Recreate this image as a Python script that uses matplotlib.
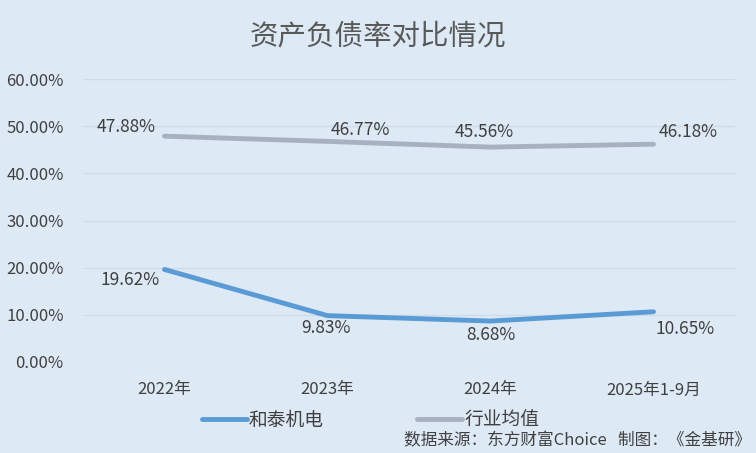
import matplotlib.pyplot as plt

plt.rcParams['font.family'] = ['Noto Sans CJK SC', 'DejaVu Sans']

# data
categories = ['2022年', '2023年', '2024年', '2025年1-9月']
hetai = [19.62, 9.83, 8.68, 10.65]
industry = [47.88, 46.77, 45.56, 46.18]
yticks = [0, 10, 20, 30, 40, 50, 60]

bg = '#dde9f5'
blue = '#5b9bd5'
gray = '#a7b1c0'
txt = '#404040'

fig = plt.figure(figsize=(7.56, 4.53), dpi=100, facecolor=bg)
ax = fig.add_axes([83 / 756, 1 - 362 / 453, 652 / 756, 283 / 453], facecolor=bg)

x = range(len(categories))
l1, = ax.plot(x, hetai, color=blue, lw=3.5, solid_capstyle='round', label='和泰机电')
l2, = ax.plot(x, industry, color=gray, lw=3.5, solid_capstyle='round', label='行业均值')

ax.set_xlim(-0.5, len(categories) - 0.5)
ax.set_ylim(0, 60)
ax.set_yticks(yticks)
ax.set_yticklabels([f'{v:.2f}%' for v in yticks], fontsize=12, color=txt)
ax.set_xticks(list(x))
ax.set_xticklabels(categories, fontsize=12, color=txt)
ax.tick_params(length=0)
ax.tick_params(axis='x', pad=14)
ax.tick_params(axis='y', pad=14)
ax.grid(axis='y', color='#cfdbe8', lw=1)
ax.set_axisbelow(True)
for s in ax.spines.values():
    s.set_visible(False)

# value labels, offsets in pixels
ind_off = [(-38, 9), (33, 11), (-6, 15), (35, 12)]
for i, v in enumerate(industry):
    ax.annotate(f'{v:.2f}%', (i, v), xytext=ind_off[i], textcoords='offset pixels',
                ha='center', va='center', fontsize=12.5, color=txt)
het_off = [(-34, -11), (-2, -12), (0, -14), (32, -17)]
for i, v in enumerate(hetai):
    ax.annotate(f'{v:.2f}%', (i, v), xytext=het_off[i], textcoords='offset pixels',
                ha='center', va='center', fontsize=12.5, color=txt)

fig.text(0.5, 1 - 36 / 453, '资产负债率对比情况', ha='center', va='center',
         fontsize=20.5, color='#595959')

fig.legend(handles=[l1, l2], loc='center', bbox_to_anchor=(0.49, 1 - 420 / 453),
           ncol=2, frameon=False, fontsize=13.5, handlelength=2.4, columnspacing=5.0,
           handletextpad=0.1, labelcolor=txt)

fig.text(0.993, 1 - 441 / 453, '数据来源：东方财富Choice   制图：《金基研》',
         ha='right', va='center', fontsize=12, color=txt)

fig.savefig('out.png', dpi=100, facecolor=bg)
